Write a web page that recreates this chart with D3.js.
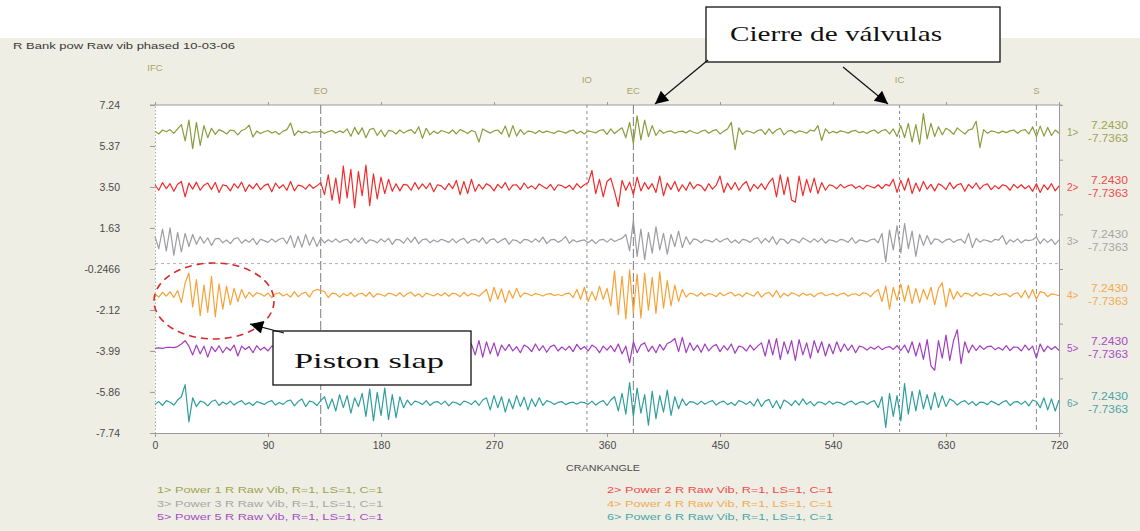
<!DOCTYPE html>
<html>
<head>
<meta charset="utf-8">
<script src="https://cdn.jsdelivr.net/npm/d3@7"></script>
<style>
  body { margin: 0; background: #fff; }
  svg { display: block; font-family: "Liberation Sans", Arial, sans-serif; }
  .serif { font-family: "Liberation Serif", "Times New Roman", serif; }
</style>
</head>
<body>
<svg id="chart" width="1140" height="531"></svg>
<script>
// ---- Data -------------------------------------------------------------
const chartTitle = "R Bank pow Raw vib phased 10-03-06";
const channelIds = [1, 2, 3, 4, 5, 6];
const channelNames = ["Power 1 R Raw Vib", "Power 2 R Raw Vib", "Power 3 R Raw Vib",
                      "Power 4 R Raw Vib", "Power 5 R Raw Vib", "Power 6 R Raw Vib"];
const channelSuffix = "R=1, LS=1, C=1";
const channelOffsets = [6.00, 3.50, 1.03, -1.43, -3.87, -6.38];
const channelRangeLabels = ["7.2430", "-7.7363"];
const sampleStepDeg = 3;

// raw vibration, deviation from each channel baseline, one sample every 3 deg
const vib1 = [
  0.05,-0.08,0.10,0.02,0.12,-0.05,0.15,0.35,-0.40,0.55,
  -0.75,0.45,-0.60,0.30,-0.25,0.18,-0.10,0.12,0.04,-0.08,
  0.10,0.06,-0.12,0.08,0.15,0.32,-0.22,0.05,-0.06,0.02,
  0.08,-0.04,0.03,-0.10,0.05,0.12,0.42,-0.15,0.06,-0.03,
  0.04,-0.05,0.02,0.00,0.05,-0.06,0.03,0.08,-0.04,0.06,
  -0.02,0.15,-0.18,0.22,-0.10,0.20,-0.25,0.12,0.18,-0.15,
  0.10,-0.20,0.08,0.05,-0.08,0.10,-0.04,0.06,0.12,-0.06,
  0.25,-0.28,0.18,-0.12,0.05,-0.06,0.08,0.02,-0.05,0.10,
  -0.08,0.12,0.04,-0.06,0.08,0.02,-0.45,0.15,0.05,-0.04,
  0.06,0.10,-0.08,0.28,-0.22,0.30,-0.18,0.12,-0.10,0.05,
  0.03,-0.06,0.08,-0.02,0.05,0.00,-0.05,0.06,0.02,-0.04,
  0.05,0.10,-0.06,0.04,-0.08,0.06,0.02,-0.03,0.08,0.12,
  -0.10,0.15,-0.06,0.08,0.20,-0.25,0.45,-0.50,0.75,-0.35,
  0.55,-0.20,0.30,-0.15,0.10,-0.05,0.03,0.06,-0.04,0.02,
  0.05,-0.03,0.08,0.00,-0.06,0.04,0.10,-0.05,0.06,0.12,
  -0.08,0.05,0.15,0.45,-0.80,0.20,-0.10,0.06,0.02,-0.05,
  0.08,0.12,-0.10,0.15,-0.06,0.10,0.18,-0.12,0.05,0.08,
  -0.04,0.06,0.02,-0.05,0.10,0.05,0.30,-0.38,0.15,-0.05,
  0.04,-0.03,0.06,0.02,-0.04,0.05,0.08,-0.02,0.03,-0.06,
  0.05,0.10,-0.05,0.08,0.12,-0.08,0.15,-0.20,0.30,-0.25,
  0.40,-0.45,0.35,-0.55,0.85,-0.30,0.40,-0.20,0.25,-0.12,
  0.18,0.08,-0.10,0.20,0.05,-0.08,0.10,0.15,0.50,-0.70,
  0.12,-0.05,0.06,0.02,-0.04,0.05,-0.02,0.06,0.10,-0.05,
  0.08,0.12,-0.08,0.25,-0.20,0.28,-0.18,0.22,-0.15,0.10,-0.05
];
const vib2 = [
  0.10,-0.15,0.20,-0.08,0.15,-0.20,0.12,0.25,-0.45,0.18,
  -0.10,0.22,-0.15,0.08,0.18,-0.12,0.20,-0.25,0.10,0.05,
  -0.18,0.15,-0.05,0.22,-0.20,0.10,-0.08,0.16,-0.12,0.06,
  0.14,-0.22,0.18,-0.06,0.10,-0.15,0.25,-0.18,0.08,0.04,
  -0.10,0.12,-0.06,0.05,0.20,-0.35,0.55,-0.60,0.40,-0.75,
  0.95,-0.50,0.80,-0.95,0.70,-0.40,1.00,-0.85,0.60,-0.55,
  0.45,-0.30,0.35,-0.20,0.15,-0.18,0.12,0.08,-0.15,0.20,
  -0.10,0.14,-0.08,0.18,-0.22,0.10,0.05,-0.12,0.16,-0.08,
  0.30,-0.35,0.25,-0.30,0.35,-0.20,0.12,-0.10,0.15,0.05,
  -0.18,0.12,-0.05,0.20,-0.15,0.08,0.10,-0.12,0.18,-0.06,
  0.05,-0.10,0.14,0.02,-0.08,0.12,-0.15,0.10,0.06,-0.05,
  0.08,-0.12,0.15,-0.04,0.10,0.20,0.75,-0.30,0.35,-0.45,
  0.25,0.40,-0.20,-0.90,0.30,-0.15,0.22,-0.35,0.45,-0.18,
  0.20,-0.10,0.15,-0.25,0.50,-0.40,0.18,-0.12,0.25,-0.20,
  0.10,-0.15,0.22,-0.08,0.12,0.05,-0.18,0.15,-0.10,0.08,
  0.50,-0.25,0.18,-0.12,0.20,-0.15,0.10,0.25,-0.20,0.12,
  -0.08,0.15,-0.12,0.20,0.40,-0.45,0.55,-0.35,0.45,-0.60,
  -0.70,0.50,-0.40,0.35,-0.25,0.40,-0.30,0.20,-0.15,0.10,
  0.05,-0.08,0.12,-0.04,0.06,0.10,-0.06,0.04,-0.10,0.08,
  0.02,-0.05,0.10,-0.08,0.12,0.05,0.35,-0.25,0.30,-0.15,
  0.40,-0.30,0.18,-0.20,0.25,-0.10,0.12,-0.18,0.15,0.05,
  -0.12,0.20,-0.08,0.10,0.15,-0.20,0.12,-0.06,0.18,-0.10,
  0.08,0.14,-0.12,0.06,-0.08,0.10,0.05,-0.15,0.12,-0.05,
  0.10,-0.08,0.06,-0.20,0.15,-0.25,0.10,-0.12,0.15,-0.18,0.05
];
const vib3 = [
  0.20,-0.35,0.55,-0.45,0.60,-0.65,0.40,-0.50,0.35,-0.25,
  0.30,-0.15,0.20,-0.10,0.15,-0.20,0.10,0.12,-0.08,0.05,
  -0.12,0.10,0.15,-0.10,0.06,-0.05,0.12,-0.15,0.08,0.02,
  -0.06,0.10,-0.04,0.08,0.14,-0.12,0.25,-0.30,0.22,-0.28,
  0.30,-0.20,0.18,-0.25,0.12,-0.08,0.06,-0.04,0.10,-0.06,
  0.04,0.08,-0.10,0.12,-0.05,0.15,-0.12,0.06,0.02,-0.08,
  0.10,-0.04,0.12,-0.15,0.08,0.05,-0.10,0.14,-0.06,0.18,
  -0.12,0.06,0.10,-0.08,0.05,-0.04,0.08,0.02,-0.06,0.10,
  -0.08,0.06,0.12,-0.10,0.04,0.08,-0.05,0.15,-0.12,0.06,
  0.10,-0.08,0.04,0.12,-0.15,0.06,0.02,-0.10,0.08,0.05,
  -0.06,0.10,-0.04,0.18,-0.12,0.05,0.08,-0.06,0.04,0.20,
  -0.10,0.06,-0.04,0.02,0.05,-0.08,0.06,-0.12,0.04,0.08,
  -0.05,0.10,-0.02,0.06,0.12,0.30,-0.45,0.95,-0.70,0.55,
  -0.85,0.40,-0.55,0.65,-0.40,0.35,-0.60,0.30,-0.25,0.45,
  -0.30,0.20,-0.15,0.10,0.05,-0.08,0.06,0.02,-0.05,0.10,
  -0.04,0.06,0.12,-0.08,0.05,-0.10,0.08,0.04,-0.06,0.10,
  0.15,-0.10,0.12,-0.05,0.20,-0.15,0.10,0.06,-0.12,0.08,
  0.04,-0.08,0.14,0.05,-0.06,0.10,-0.04,0.12,-0.10,0.06,
  0.02,-0.05,0.08,0.04,-0.06,0.15,-0.10,0.05,0.02,-0.04,
  0.06,0.10,-0.08,0.35,-0.95,0.50,-0.40,0.70,-0.55,0.80,
  -0.35,0.45,-0.70,0.30,-0.20,0.25,-0.15,0.10,0.06,-0.08,
  0.05,0.10,-0.06,0.04,0.08,-0.10,0.35,-0.30,0.12,-0.05,
  0.06,0.02,-0.05,0.08,0.04,0.25,-0.15,0.06,-0.04,0.10,
  -0.08,0.05,0.02,0.06,0.18,-0.12,0.10,-0.06,0.08,-0.15,0.05
];
const vib4 = [
  0.05,-0.10,0.12,-0.06,0.15,-0.12,0.20,-0.35,0.55,1.00,
  -0.55,0.70,-0.95,0.45,-0.80,0.85,-1.00,0.50,-0.65,0.40,
  -0.45,0.30,-0.30,0.25,-0.15,0.12,-0.08,0.10,0.05,-0.06,
  0.08,-0.12,0.06,0.10,-0.05,0.04,-0.10,0.15,-0.08,0.06,
  0.12,-0.10,0.18,0.25,0.20,0.15,-0.12,0.08,0.05,-0.10,
  0.06,-0.04,0.10,-0.08,0.04,0.08,-0.06,0.12,-0.10,0.05,
  0.02,-0.06,0.08,0.04,-0.05,0.10,-0.08,0.06,0.12,-0.06,
  0.05,-0.10,0.08,0.02,-0.05,0.06,-0.04,0.10,-0.06,0.08,
  0.04,-0.08,0.12,-0.05,0.06,0.02,-0.06,0.10,0.25,-0.30,
  0.35,-0.20,0.28,-0.35,0.20,-0.15,0.30,-0.10,0.08,0.05,
  -0.04,0.06,0.02,-0.05,0.04,0.06,-0.03,0.02,-0.04,0.05,
  0.08,-0.12,0.25,-0.20,0.35,-0.30,0.15,-0.25,0.40,-0.20,
  0.30,-0.50,1.10,-0.90,0.85,-1.10,1.15,-0.80,0.95,-1.05,
  1.00,-0.70,0.80,-0.85,1.05,-0.60,0.65,-0.50,0.45,-0.30,
  0.25,-0.10,0.08,0.04,-0.06,0.10,-0.05,0.06,0.02,-0.08,
  0.10,-0.04,0.06,0.12,-0.05,0.04,-0.08,0.10,0.02,-0.06,
  0.15,-0.10,0.06,0.12,-0.08,0.20,-0.12,0.08,-0.05,0.10,
  0.04,-0.06,0.08,-0.02,0.05,-0.08,0.06,0.10,-0.04,0.02,
  0.06,-0.05,0.04,0.08,-0.06,0.03,0.05,-0.04,0.10,0.06,
  -0.08,0.12,0.25,-0.30,0.40,-0.65,0.35,-0.25,0.50,-0.30,
  0.45,-0.40,0.30,-0.35,0.25,-0.20,0.35,-0.45,0.30,0.55,
  -0.55,0.30,-0.20,0.15,-0.10,0.08,0.05,-0.06,0.10,-0.04,
  0.06,0.02,-0.05,0.08,-0.03,0.04,0.06,-0.08,0.05,0.10,
  -0.12,0.20,-0.15,0.25,-0.20,0.15,0.10,-0.08,0.05,0.02,-0.04
];
const vib5 = [
  0.00,0.02,0.00,0.04,0.05,0.03,0.08,0.20,0.35,0.10,
  -0.30,0.15,-0.25,0.10,-0.40,0.08,-0.15,0.12,-0.20,0.05,
  -0.10,0.15,-0.35,0.10,-0.05,0.08,-0.20,0.12,-0.08,0.05,
  -0.12,0.10,0.04,-0.06,0.12,-0.10,0.06,-0.15,0.08,0.02,
  -0.08,0.10,-0.05,0.06,0.12,-0.10,0.08,-0.04,0.05,-0.12,
  0.10,0.04,-0.08,0.12,-0.06,0.05,0.08,-0.10,0.06,0.02,
  -0.05,0.10,-0.08,0.06,0.04,-0.10,0.12,-0.06,0.05,0.08,
  -0.04,0.06,-0.10,0.12,0.02,-0.06,0.08,-0.05,0.10,0.04,
  -0.08,0.12,-0.10,0.06,0.20,-0.30,0.35,-0.40,0.30,-0.25,
  0.25,-0.35,0.15,-0.10,0.18,-0.12,0.08,-0.20,0.15,0.05,
  -0.15,0.20,-0.10,0.12,-0.18,0.08,0.15,-0.12,0.06,-0.08,
  0.10,-0.15,0.18,-0.05,0.08,-0.12,0.15,0.04,-0.20,0.10,
  -0.08,0.12,-0.15,0.20,-0.25,0.10,-0.65,0.30,-0.20,0.15,
  0.25,-0.15,0.10,-0.20,0.18,-0.08,0.22,0.30,0.45,-0.15,
  0.50,-0.20,0.25,-0.10,0.15,-0.18,0.20,-0.12,0.08,0.18,
  -0.15,0.12,-0.08,0.20,-0.22,0.10,0.05,-0.12,0.15,-0.08,
  0.10,0.25,-0.35,0.40,-0.30,0.45,-0.50,0.30,-0.25,0.35,
  -0.55,0.40,-0.30,0.25,-0.45,0.35,-0.20,0.30,-0.35,0.20,
  -0.25,0.30,-0.15,0.20,-0.10,0.15,-0.20,0.10,0.05,-0.08,
  0.06,-0.04,0.10,-0.06,0.04,0.08,-0.05,0.12,-0.10,0.15,
  -0.20,0.30,-0.35,0.25,-0.50,0.40,-0.80,-1.00,0.35,-0.45,
  0.60,-0.55,0.35,0.85,-0.70,0.30,-0.20,0.15,-0.10,0.12,
  -0.05,0.08,0.10,-0.06,0.04,-0.08,0.12,-0.10,0.06,0.05,
  -0.12,0.15,-0.08,0.10,-0.45,0.20,-0.15,0.10,-0.05,0.08,-0.10
];
const vib6 = [
  -0.05,0.08,-0.10,0.12,0.05,-0.08,0.15,0.30,0.85,-0.85,
  0.25,-0.15,0.10,0.05,-0.12,0.08,0.15,-0.10,0.06,-0.04,
  0.10,-0.08,0.05,0.12,-0.06,0.04,-0.10,0.08,0.02,-0.05,
  0.06,0.12,-0.08,0.04,-0.05,0.10,0.15,-0.12,0.08,0.20,
  -0.15,0.10,0.05,-0.10,0.12,0.30,-0.25,0.20,-0.35,0.40,
  -0.20,0.35,-0.45,0.25,-0.15,0.45,-0.60,0.65,-0.80,0.50,
  -0.55,0.70,-0.75,0.40,-0.65,0.30,-0.20,0.15,-0.08,0.10,
  0.05,-0.06,0.12,-0.10,0.04,0.08,-0.05,0.10,-0.12,0.06,
  0.02,-0.08,0.10,0.05,-0.06,0.12,-0.10,0.15,0.25,-0.30,
  0.35,-0.20,0.30,-0.40,0.20,-0.25,0.35,-0.15,0.28,-0.30,
  0.20,-0.15,0.25,-0.10,0.12,0.06,-0.05,0.04,0.08,-0.06,
  0.02,0.05,-0.04,0.06,0.03,-0.05,0.10,-0.08,0.05,0.12,
  -0.10,0.15,0.30,-0.35,0.45,-0.50,0.95,-0.60,0.70,-0.45,
  0.40,-1.00,0.55,-0.70,0.35,-0.40,0.60,-0.55,0.30,-0.25,
  0.20,-0.10,0.08,0.05,-0.06,0.10,-0.04,0.06,0.12,-0.08,
  0.05,0.10,-0.06,0.04,-0.10,0.12,0.06,-0.05,0.08,-0.12,
  0.20,-0.15,0.10,0.18,-0.20,0.12,-0.25,0.15,0.05,-0.10,
  0.12,-0.08,0.20,-0.05,0.08,-0.12,0.06,0.04,-0.06,0.10,
  -0.04,0.06,0.02,-0.08,0.05,0.10,-0.06,0.04,0.08,-0.05,
  0.06,0.12,-0.20,0.30,-1.10,0.45,-0.60,0.35,-0.80,0.90,
  -0.50,0.55,-0.35,0.60,-0.25,0.40,-0.30,0.50,-0.20,0.35,
  -0.15,0.20,0.10,-0.08,0.06,0.12,-0.05,0.08,-0.10,0.05,
  0.04,-0.06,0.10,0.02,-0.08,0.06,0.12,-0.10,0.05,0.08,
  -0.05,0.10,-0.12,0.15,0.08,-0.20,0.25,-0.30,0.20,-0.35,0.15
];
const channelSeries = [vib1, vib2, vib3, vib4, vib5, vib6];

// crank-angle axis and amplitude axis
const angleTicks = [0, 90, 180, 270, 360, 450, 540, 630, 720];
const ampTickValues = [7.2430, 5.37, 3.50, 1.63, -0.2466, -2.12, -3.99, -5.86, -7.7363];
const ampTickLabels = ["7.24", "5.37", "3.50", "1.63", "-0.2466", "-2.12", "-3.99", "-5.86", "-7.74"];
const ampDomain = [-7.7363, 7.2430];

// valve / ignition events (deg)
const eventNames = ["IFC", "EO", "IO", "EC", "IC", "S"];
const eventAngles = [0, 132, 344, 381, 593, 702];

// ---- Styling ----------------------------------------------------------
const traceColors = ["#8a9d3c", "#f22a2a", "#9c9ca4", "#f7a236", "#a23cc2", "#2e9e9e"];
const labelColors = ["#9ca552", "#ef4a4a", "#a6a6a6", "#f4aa52", "#a64cc6", "#4aa6a6"];

const svg = d3.select("#chart");
const W = 1140, H = 531;
const plot = { left: 155, right: 1059, top: 105, bottom: 433 };

svg.append("rect").attr("width", W).attr("height", H).attr("fill", "#ffffff");
svg.append("rect").attr("x", 0).attr("y", 38).attr("width", W).attr("height", H - 38)
  .attr("fill", "#efeee4");

const x = d3.scaleLinear().domain([0, 720]).range([plot.left, plot.right]);
const y = d3.scaleLinear().domain(ampDomain).range([plot.bottom, plot.top]);

svg.append("rect")
  .attr("x", plot.left).attr("y", plot.top)
  .attr("width", plot.right - plot.left).attr("height", plot.bottom - plot.top)
  .attr("fill", "#ffffff");

// title
svg.append("text").attr("x", 13).attr("y", 49)
  .attr("font-size", 9.5).attr("fill", "#3a3a3a")
  .attr("textLength", 222).attr("lengthAdjust", "spacingAndGlyphs")
  .text(chartTitle);

// axes
const axisColor = "#9a9a9a";
function styleAxis(g) {
  g.attr("font-family", null);
  g.selectAll(".domain").attr("stroke", axisColor);
  g.selectAll(".tick line").attr("stroke", axisColor);
  g.selectAll(".tick text").attr("fill", "#4a4a4a");
}

const xAxis = svg.append("g").attr("transform", `translate(0,${plot.bottom})`)
  .call(d3.axisBottom(x).tickValues(angleTicks).tickFormat(d3.format("d"))
    .tickSizeInner(4).tickSizeOuter(0).tickPadding(5));
styleAxis(xAxis);
xAxis.attr("font-size", 10.5);

const topAxis = svg.append("g").attr("transform", `translate(0,${plot.top})`)
  .call(d3.axisTop(x).tickValues(angleTicks).tickFormat("")
    .tickSizeInner(3).tickSizeOuter(0));
styleAxis(topAxis);
topAxis.select(".domain").attr("d", `M${plot.left - 5},0H${plot.right + 3}`);

const yAxis = svg.append("g").attr("transform", `translate(${plot.left},0)`)
  .call(d3.axisLeft(y).tickValues(ampTickValues)
    .tickFormat((d, i) => ampTickLabels[i])
    .tickSizeInner(5).tickSizeOuter(0).tickPadding(30));
styleAxis(yAxis);
yAxis.attr("font-size", 10.5);
yAxis.select(".domain").attr("stroke", "#9fb79f").attr("stroke-dasharray", "1.5,2");

const rightTicks = d3.range(channelIds.length + 1)
  .map(k => ampDomain[0] + k * (ampDomain[1] - ampDomain[0]) / channelIds.length);
const rightAxis = svg.append("g").attr("transform", `translate(${plot.right},0)`)
  .call(d3.axisRight(y).tickValues(rightTicks).tickFormat("")
    .tickSizeInner(4).tickSizeOuter(0));
styleAxis(rightAxis);

// zero reference line
svg.append("line")
  .attr("x1", plot.left).attr("x2", plot.right)
  .attr("y1", y(0)).attr("y2", y(0))
  .attr("stroke", "#9a9a9a").attr("stroke-width", 0.8).attr("stroke-dasharray", "3,3");

// event markers
const eventTier = { IFC: 0, IO: 1, IC: 1, EO: 2, EC: 2, S: 2 };
const eventDash = { EO: "9,3", EC: "9,3", IO: "3,3", IC: "3,3", S: "5,3" };
eventNames.forEach((name, i) => {
  const ex = x(eventAngles[i]);
  if (name !== "IFC") {
    svg.append("line")
      .attr("x1", ex).attr("x2", ex).attr("y1", plot.top).attr("y2", plot.bottom)
      .attr("stroke", name === "EO" || name === "EC" ? "#7c7c7c" : "#8c8c8c")
      .attr("stroke-width", 1).attr("stroke-dasharray", eventDash[name]);
  }
  svg.append("text")
    .attr("x", ex).attr("y", 71 + eventTier[name] * 11.5)
    .attr("text-anchor", "middle").attr("font-size", 9.5)
    .attr("fill", "#a8a566")
    .text(name);
});

// traces
const line = d3.line()
  .x((d, i) => x(i * sampleStepDeg))
  .y(d => d);

channelSeries.forEach((series, c) => {
  const pts = series.map(v => y(channelOffsets[c] + v));
  svg.append("path")
    .attr("d", line(pts))
    .attr("fill", "none")
    .attr("stroke", traceColors[c])
    .attr("stroke-width", 1.2)
    .attr("stroke-linejoin", "round");
});

// per-channel scale labels on the right
channelIds.forEach((id, c) => {
  const cy = y(channelOffsets[c]);
  svg.append("text").attr("x", 1067).attr("y", cy + 4)
    .attr("font-size", 10).attr("fill", labelColors[c]).text(`${id}>`);
  svg.append("text").attr("x", 1091).attr("y", cy - 3)
    .attr("font-size", 10).attr("fill", labelColors[c])
    .attr("textLength", 37).attr("lengthAdjust", "spacingAndGlyphs")
    .text(channelRangeLabels[0]);
  svg.append("text").attr("x", 1088).attr("y", cy + 10)
    .attr("font-size", 10).attr("fill", labelColors[c])
    .attr("textLength", 40).attr("lengthAdjust", "spacingAndGlyphs")
    .text(channelRangeLabels[1]);
});

// axis title
svg.append("text").attr("x", 603).attr("y", 471)
  .attr("text-anchor", "middle").attr("font-size", 9.5).attr("fill", "#4a4a4a")
  .attr("textLength", 74).attr("lengthAdjust", "spacingAndGlyphs")
  .text("CRANKANGLE");

// legend, two columns
channelIds.forEach((id, c) => {
  const col = c % 2, row = Math.floor(c / 2);
  svg.append("text")
    .attr("x", col === 0 ? 157 : 607).attr("y", 493 + row * 13.5)
    .attr("font-size", 9.5).attr("fill", labelColors[c])
    .attr("textLength", 226).attr("lengthAdjust", "spacingAndGlyphs")
    .text(`${id}> ${channelNames[c]}, ${channelSuffix}`);
});

// ---- Annotations ------------------------------------------------------
const defs = svg.append("defs");
defs.append("marker")
  .attr("id", "arrowHead").attr("viewBox", "0 0 10 10")
  .attr("refX", 10).attr("refY", 5)
  .attr("markerWidth", 16).attr("markerHeight", 13)
  .attr("markerUnits", "userSpaceOnUse").attr("orient", "auto")
  .append("path").attr("d", "M0,0 L10,5 L0,10 Z").attr("fill", "#000");

// valve closing callout
svg.append("rect").attr("x", 706).attr("y", 7).attr("width", 294).attr("height", 55)
  .attr("fill", "#ffffff").attr("stroke", "#111").attr("stroke-width", 1.3);
svg.append("text").attr("class", "serif").attr("x", 730).attr("y", 41)
  .attr("font-size", 21).attr("fill", "#111")
  .attr("textLength", 212).attr("lengthAdjust", "spacingAndGlyphs")
  .text("Cierre de válvulas");
svg.append("line").attr("x1", 708).attr("y1", 60).attr("x2", 655).attr("y2", 104)
  .attr("stroke", "#111").attr("stroke-width", 1.2).attr("marker-end", "url(#arrowHead)");
svg.append("line").attr("x1", 843).attr("y1", 67).attr("x2", 888).attr("y2", 104)
  .attr("stroke", "#111").attr("stroke-width", 1.2).attr("marker-end", "url(#arrowHead)");

// piston slap highlight
svg.append("ellipse").attr("cx", 214).attr("cy", 301).attr("rx", 60).attr("ry", 38)
  .attr("fill", "none").attr("stroke", "#d62b2b").attr("stroke-width", 1.6)
  .attr("stroke-dasharray", "7,5");
svg.append("rect").attr("x", 273).attr("y", 331).attr("width", 198).attr("height", 54)
  .attr("fill", "#ffffff").attr("stroke", "#111").attr("stroke-width", 1.3);
svg.append("text").attr("class", "serif").attr("x", 294).attr("y", 368)
  .attr("font-size", 21).attr("fill", "#111")
  .attr("textLength", 150).attr("lengthAdjust", "spacingAndGlyphs")
  .text("Piston slap");
svg.append("line").attr("x1", 284).attr("y1", 333).attr("x2", 250).attr("y2", 324)
  .attr("stroke", "#111").attr("stroke-width", 1.2).attr("marker-end", "url(#arrowHead)");
</script>
</body>
</html>
